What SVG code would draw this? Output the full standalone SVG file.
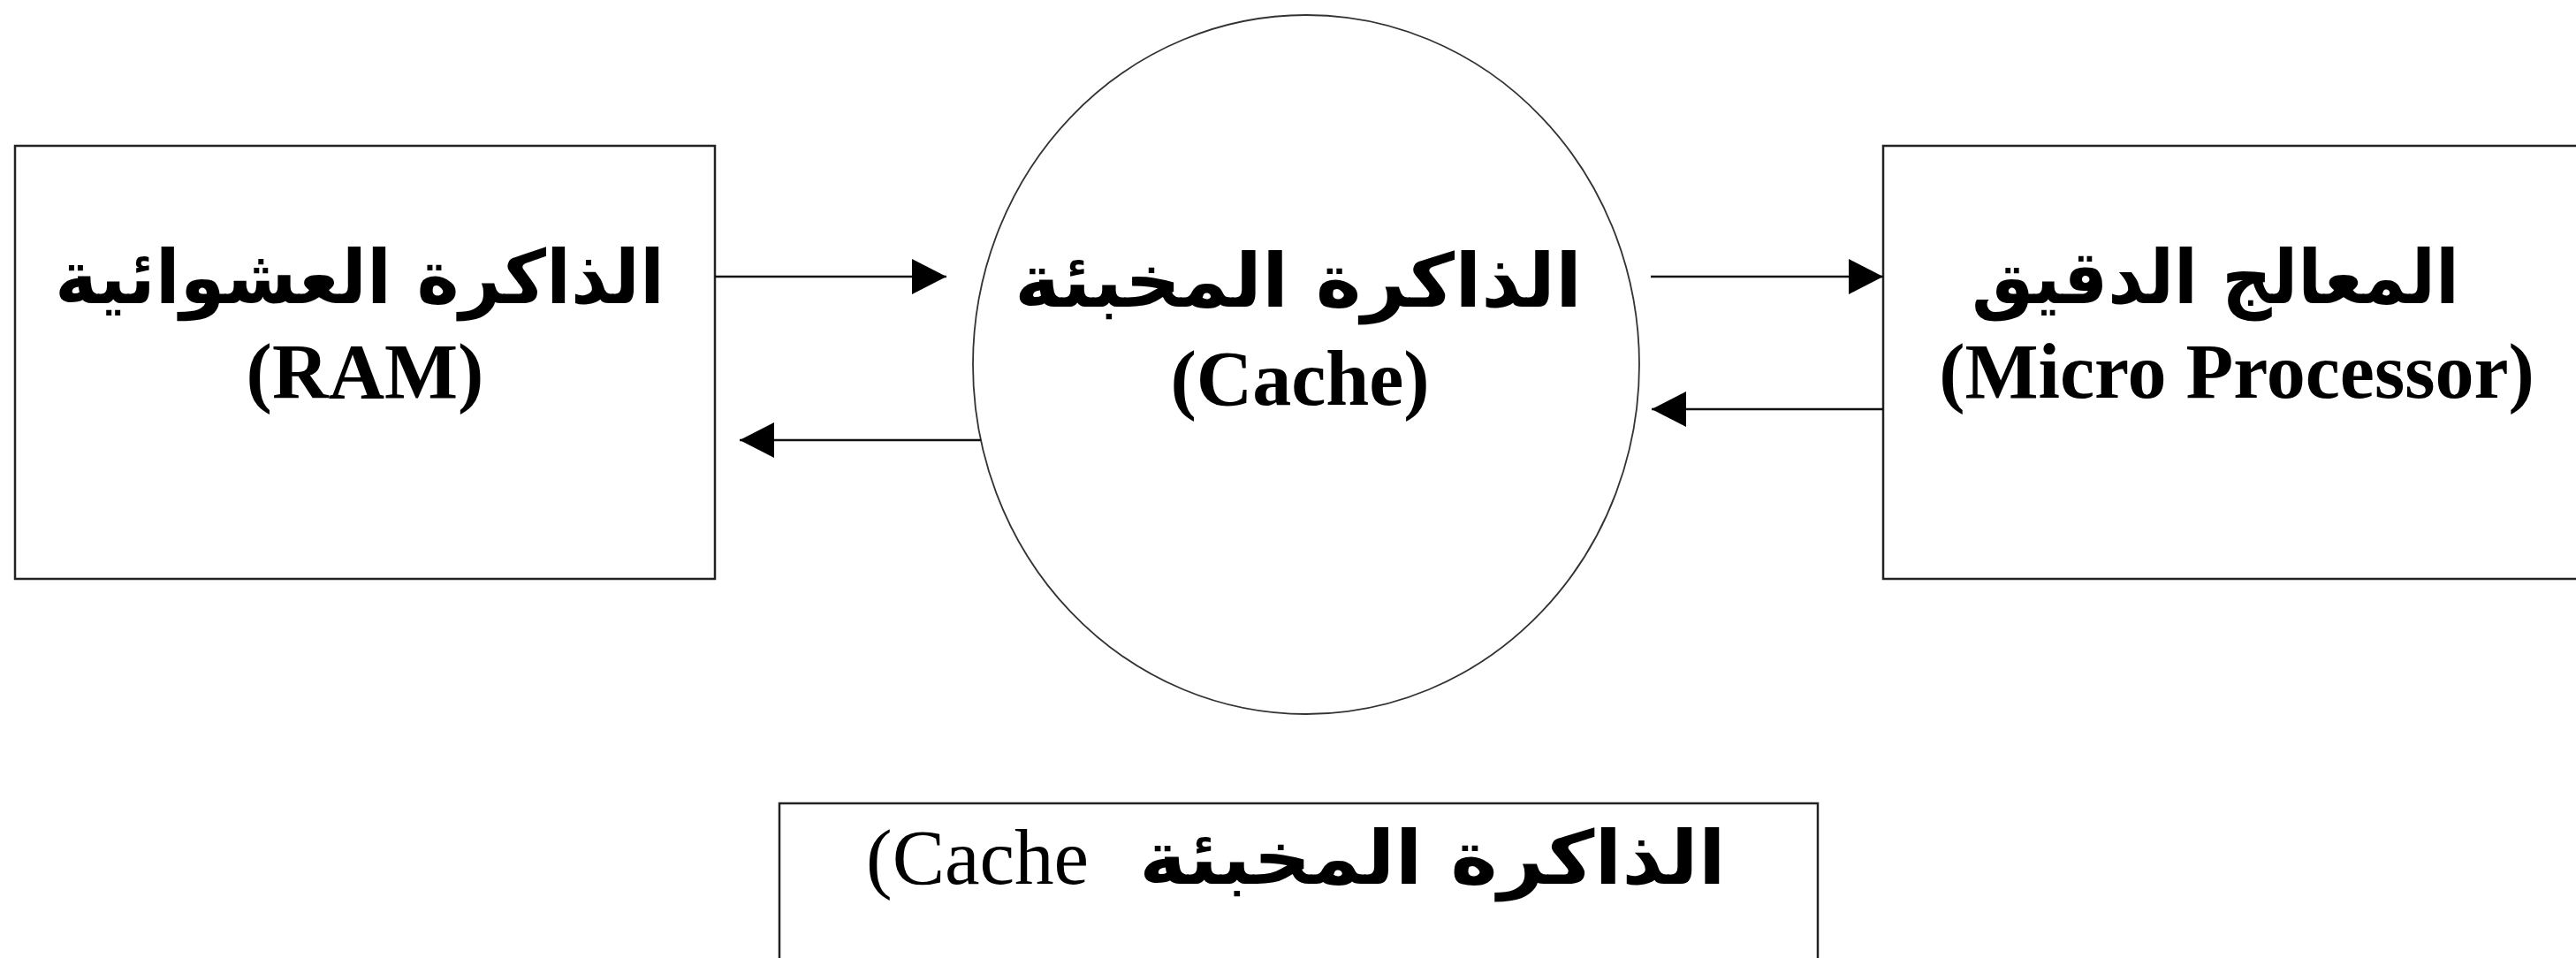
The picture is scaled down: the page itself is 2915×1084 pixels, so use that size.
<svg xmlns="http://www.w3.org/2000/svg" width="2915" height="1084" viewBox="0 0 2915 1084">
<style>
.box{fill:#fff;stroke:#222;stroke-width:2.5}
.circ{fill:#fff;stroke:#333;stroke-width:1.8}
.ar{font-family:"DejaVu Sans",sans-serif;font-weight:bold;font-size:84px;fill:#000;text-anchor:middle}
.en{font-family:"Liberation Serif",serif;font-weight:bold;font-size:88px;fill:#000;text-anchor:middle}
.enr{font-family:"Liberation Serif",serif;font-size:89px;fill:#000}
.conn{stroke:#111;stroke-width:2.5;fill:none;marker-end:url(#arr)}
</style>
<defs>
<marker id="arr" markerUnits="userSpaceOnUse" markerWidth="40" markerHeight="40" refX="39" refY="20" orient="auto">
<path d="M0,0 L39,20 L0,40 Z" fill="#000"/>
</marker>
</defs>
<rect width="2915" height="1084" fill="#fff"/>
<g id="ram">
<rect class="box" x="17" y="165" width="792" height="490"/>
<text class="ar" x="407" y="343" textLength="690" lengthAdjust="spacingAndGlyphs">الذاكرة العشوائية</text>
<text class="en" x="413" y="450">(RAM)</text>
</g>
<g id="cache">
<ellipse class="circ" cx="1478" cy="412.5" rx="377" ry="395.5"/>
<text class="ar" x="1469" y="347" textLength="642" lengthAdjust="spacingAndGlyphs">الذاكرة المخبئة</text>
<text class="en" x="1471" y="458">(Cache)</text>
</g>
<g id="processor">
<rect class="box" x="2131" y="165" width="800" height="490"/>
<text class="ar" x="2507" y="343" textLength="552" lengthAdjust="spacingAndGlyphs">المعالج الدقيق</text>
<text class="en" x="2531" y="450">(Micro Processor)</text>
</g>
<g id="caption">
<rect class="box" x="882" y="909" width="1175" height="200"/>
<text class="enr" x="980" y="1000">(Cache</text>
<text class="ar" x="1621" y="1000" textLength="664" lengthAdjust="spacingAndGlyphs">الذاكرة المخبئة</text>
</g>
<g id="connectors">
<line class="conn" x1="809" y1="313" x2="1071" y2="313"/>
<line class="conn" x1="1110" y1="498" x2="837" y2="498"/>
<line class="conn" x1="1868" y1="313" x2="2131" y2="313"/>
<line class="conn" x1="2131" y1="463" x2="1869" y2="463"/>
</g>
</svg>
